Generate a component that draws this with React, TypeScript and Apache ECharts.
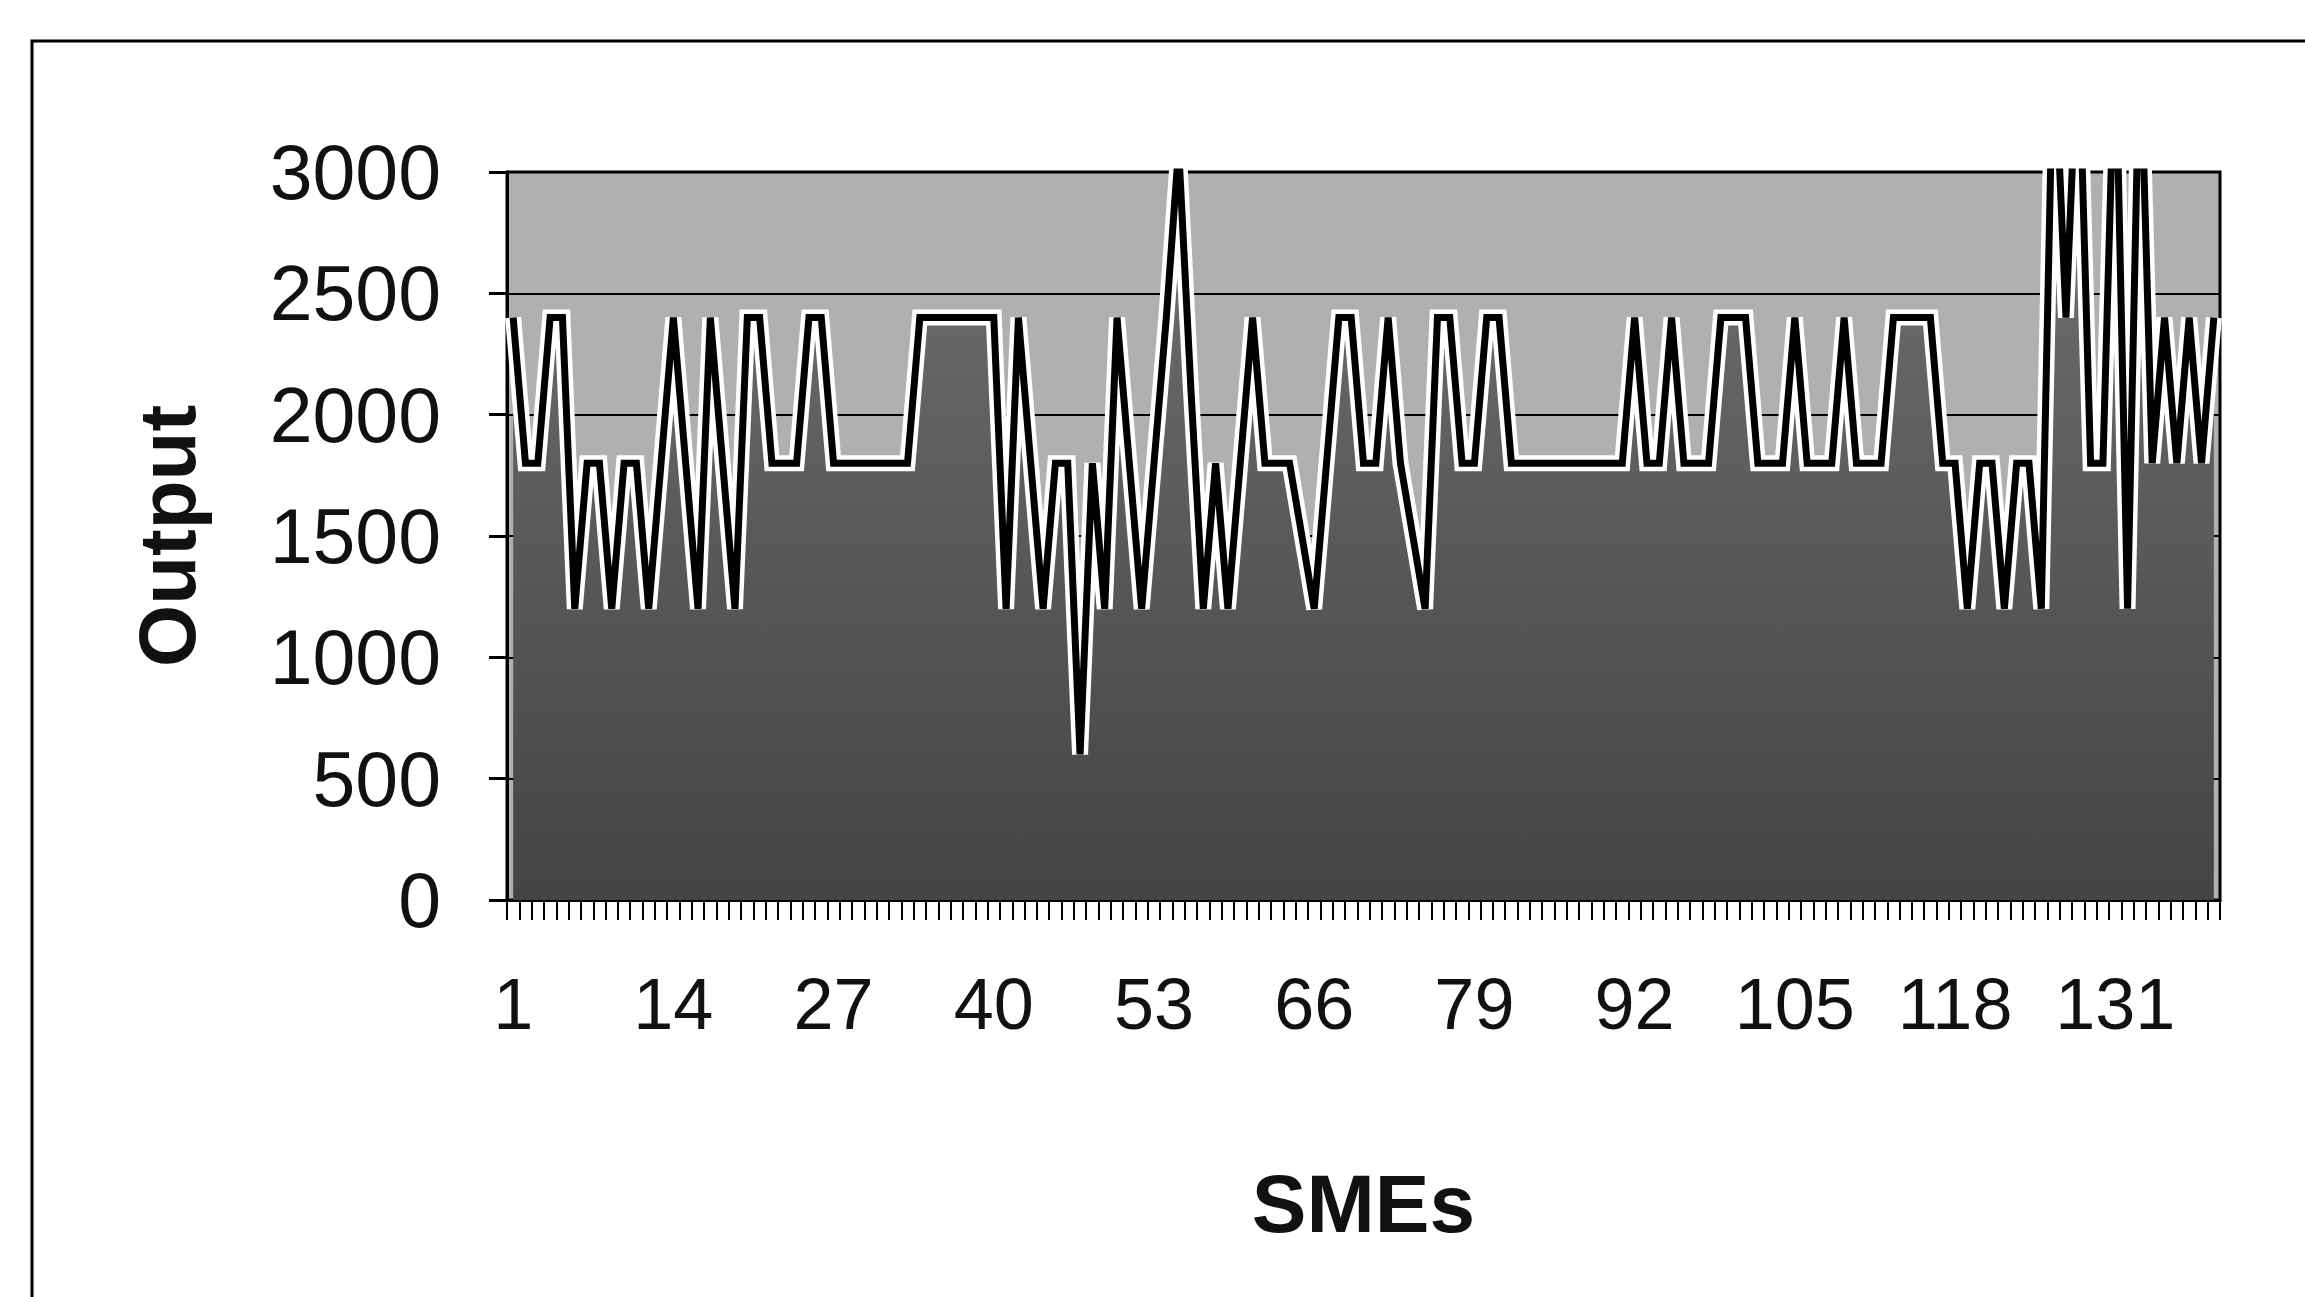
import React, { useEffect, useRef } from "react";
import * as echarts from "echarts";

const categories: string[] = Array.from({ length: 139 }, (_, i) => String(i + 1));

const outputValues: number[] = [
  2400, 1800, 1800, 2400, 2400, 1200, 1800, 1800, 1200, 1800,
  1800, 1200, 1800, 2400, 1800, 1200, 2400, 1800, 1200, 2400,
  2400, 1800, 1800, 1800, 2400, 2400, 1800, 1800, 1800, 1800,
  1800, 1800, 1800, 2400, 2400, 2400, 2400, 2400, 2400, 2400,
  1200, 2400, 1800, 1200, 1800, 1800, 600, 1800, 1200, 2400,
  1800, 1200, 1800, 2400, 3100, 2100, 1200, 1800, 1200, 1800,
  2400, 1800, 1800, 1800, 1500, 1200, 1800, 2400, 2400, 1800,
  1800, 2400, 1800, 1500, 1200, 2400, 2400, 1800, 1800, 2400,
  2400, 1800, 1800, 1800, 1800, 1800, 1800, 1800, 1800, 1800,
  1800, 2400, 1800, 1800, 2400, 1800, 1800, 1800, 2400, 2400,
  2400, 1800, 1800, 1800, 2400, 1800, 1800, 1800, 2400, 1800,
  1800, 1800, 2400, 2400, 2400, 2400, 1800, 1800, 1200, 1800,
  1800, 1200, 1800, 1800, 1200, 3600, 2400, 3600, 1800, 1800,
  3600, 1200, 3600, 1800, 2400, 1800, 2400, 1800, 2400,
];

const yTicks = { min: 0, max: 3000, interval: 500 };
const xAxisTitle = "SMEs";
const yAxisTitle = "Output";

const FONT = "'Liberation Sans', Arial, Helvetica, sans-serif";

export default function App() {
  const ref = useRef<HTMLDivElement>(null);

  useEffect(() => {
    document.body.style.margin = "0";
    if (!ref.current) return;
    const chart = echarts.init(ref.current, undefined, { renderer: "svg" });
    chart.setOption({
      animation: false,
      backgroundColor: "#ffffff",
      grid: {
        left: 507,
        right: 85,
        top: 172,
        bottom: 397,
        show: true,
        backgroundColor: "#b0b0b0",
        borderColor: "#000",
        borderWidth: 3,
      },
      graphic: [
        {
          type: "rect",
          shape: { x: 32, y: 41, width: 2400, height: 1400 },
          style: { fill: "none", stroke: "#000", lineWidth: 3 },
          silent: true,
        },
      ],
      xAxis: {
        type: "category",
        data: categories,
        boundaryGap: true,
        name: xAxisTitle,
        nameLocation: "middle",
        nameGap: 262,
        nameTextStyle: { fontFamily: FONT, fontWeight: "bold", fontSize: 82, color: "#111" },
        axisLine: { show: true, lineStyle: { color: "#000", width: 3 } },
        axisTick: { show: true, interval: 0, length: 20, lineStyle: { color: "#000", width: 2 } },
        axisLabel: {
          interval: 12,
          margin: 68,
          fontFamily: FONT,
          fontSize: 72,
          color: "#111",
        },
        splitLine: { show: false },
      },
      yAxis: {
        type: "value",
        min: yTicks.min,
        max: yTicks.max,
        interval: yTicks.interval,
        name: yAxisTitle,
        nameLocation: "middle",
        nameGap: 300,
        nameRotate: 90,
        nameTextStyle: { fontFamily: FONT, fontWeight: "bold", fontSize: 80, color: "#111" },
        axisLine: { show: true, lineStyle: { color: "#000", width: 3 } },
        axisTick: { show: true, length: 18, lineStyle: { color: "#000", width: 3 } },
        axisLabel: {
          margin: 66,
          fontFamily: FONT,
          fontSize: 77,
          color: "#111",
          formatter: (v: number) => String(v),
        },
        splitLine: { show: true, lineStyle: { color: "#000", width: 2 } },
      },
      series: [
        {
          type: "line",
          data: outputValues,
          symbol: "none",
          clip: true,
          lineStyle: { width: 0, opacity: 0 },
          areaStyle: {
            opacity: 1,
            color: new echarts.graphic.LinearGradient(0, 0, 0, 1, [
              { offset: 0, color: "#8e8e8e" },
              { offset: 0.35, color: "#666666" },
              { offset: 1, color: "#444444" },
            ]),
          },
          z: 1,
        },
        {
          type: "line",
          data: outputValues,
          symbol: "none",
          clip: true,
          lineStyle: { width: 16, color: "#ffffff", join: "miter" },
          z: 2,
        },
        {
          type: "line",
          data: outputValues,
          symbol: "none",
          clip: true,
          lineStyle: { width: 7, color: "#000000", join: "miter" },
          z: 3,
        },
      ],
    });
    return () => chart.dispose();
  }, []);

  return <div ref={ref} style={{ width: 2305, height: 1297 }} />;
}
